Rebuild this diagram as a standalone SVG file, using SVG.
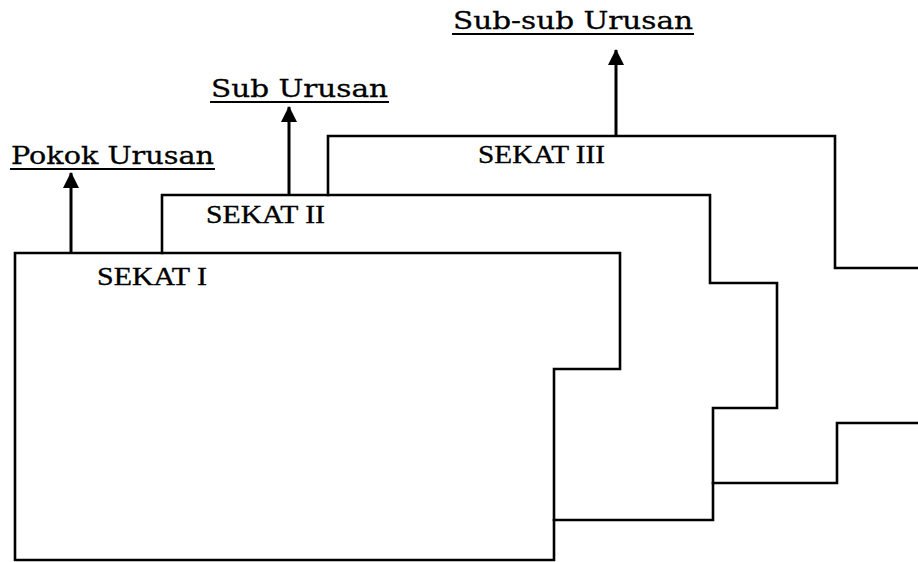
<svg xmlns="http://www.w3.org/2000/svg" width="918" height="562" viewBox="0 0 918 562">
<style>
.edge{fill:none;stroke:#000;stroke-width:2.6;stroke-linejoin:miter;stroke-linecap:square}
.sekat{font-family:"Liberation Serif","Times New Roman",serif;font-size:26px;fill:#000;stroke:#000;stroke-width:0.35}
.lbl{font-family:"DejaVu Serif","Liberation Serif",serif;font-size:24px;fill:#000;stroke:#000;stroke-width:0.3}
.ul{stroke:#000;stroke-width:2}
.conn{stroke:#000;stroke-width:3;fill:none}
</style>
<defs>
<marker id="ah" viewBox="0 0 16 16" refX="15" refY="8" markerWidth="16" markerHeight="16" markerUnits="userSpaceOnUse" orient="auto">
<path d="M0,0 L16,8 L0,16 Z" fill="#000"/>
</marker>
</defs>
<rect width="918" height="562" fill="#fff"/>
<g id="sekat3">
<path class="edge" d="M328,195 L328,136 L835,136 L835,268 L918,268"/>
<path class="edge" d="M713,483 L837,483 L837,423 L918,423"/>
<text class="sekat" x="478" y="163" textLength="127" lengthAdjust="spacingAndGlyphs">SEKAT III</text>
</g>
<g id="sekat2">
<path class="edge" d="M162,253 L162,195 L710,195 L710,283 L777,283 L777,408 L713,408 L713,520 L554,520"/>
<text class="sekat" x="206" y="223" textLength="119" lengthAdjust="spacingAndGlyphs">SEKAT II</text>
</g>
<g id="sekat1">
<path class="edge" d="M15,253 L620,253 L620,369 L554,369 L554,560 L15,560 Z"/>
<text class="sekat" x="97" y="285" textLength="110" lengthAdjust="spacingAndGlyphs">SEKAT I</text>
</g>
<g id="pokok-urusan">
<text class="lbl" x="11" y="164" textLength="203" lengthAdjust="spacingAndGlyphs">Pokok Urusan</text>
<line class="ul" x1="10" y1="169" x2="215" y2="169"/>
</g>
<g id="sub-urusan">
<text class="lbl" x="211" y="97" textLength="177" lengthAdjust="spacingAndGlyphs">Sub Urusan</text>
<line class="ul" x1="210" y1="102" x2="389" y2="102"/>
</g>
<g id="sub-sub-urusan">
<text class="lbl" x="453" y="29" textLength="240" lengthAdjust="spacingAndGlyphs">Sub-sub Urusan</text>
<line class="ul" x1="452" y1="34" x2="694" y2="34"/>
</g>
<g id="connectors">
<line class="conn" x1="71" y1="253" x2="71" y2="173" marker-end="url(#ah)"/>
<line class="conn" x1="289" y1="195" x2="289" y2="107" marker-end="url(#ah)"/>
<line class="conn" x1="616" y1="136" x2="616" y2="50" marker-end="url(#ah)"/>
</g>
</svg>
